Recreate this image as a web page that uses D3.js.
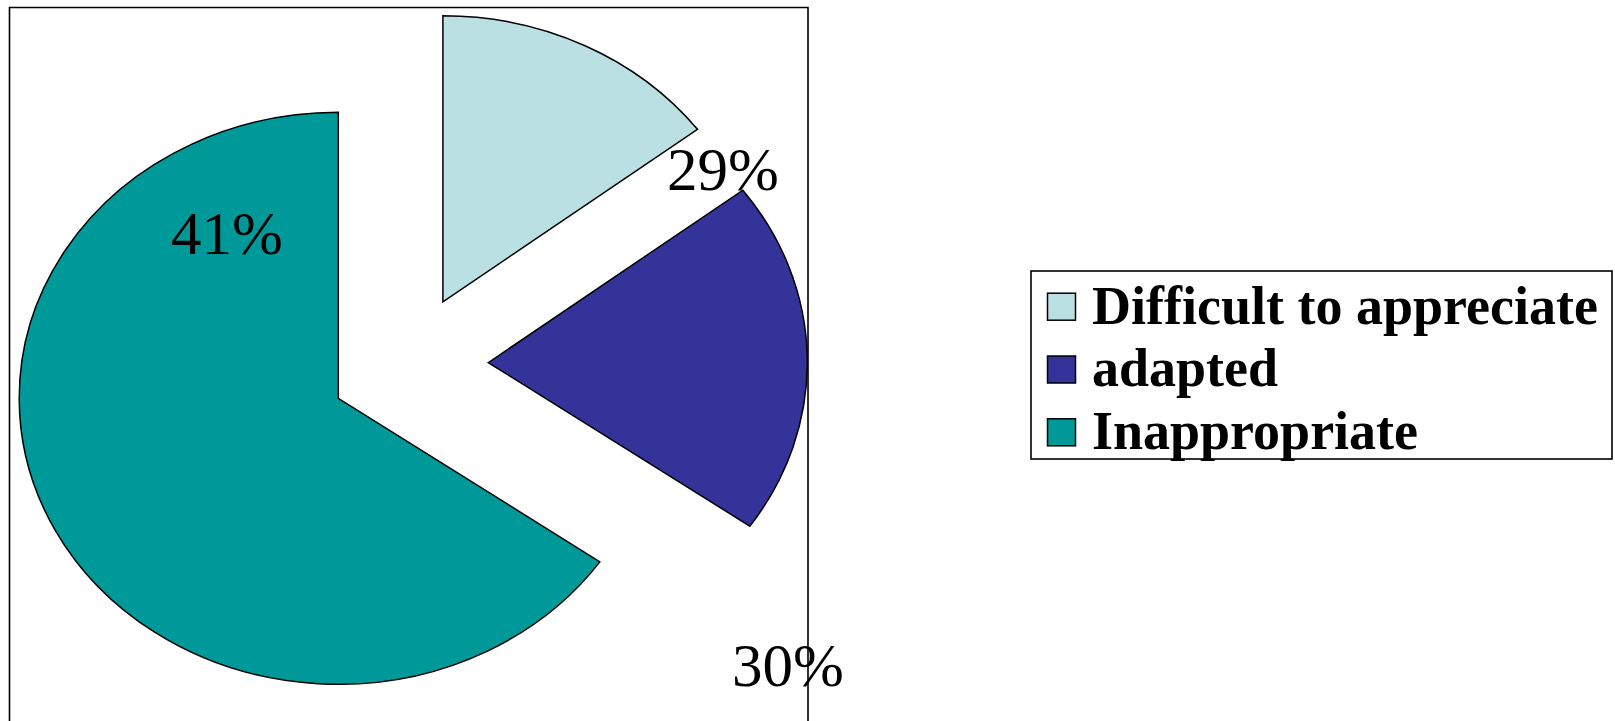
<!DOCTYPE html>
<html>
<head>
<meta charset="utf-8">
<script src="https://cdn.jsdelivr.net/npm/d3@7"></script>
<style>
  body { margin: 0; background: #fff; }
  svg { display: block; }
</style>
</head>
<body>
<svg id="chart" width="1615" height="721"></svg>
<script>
// categories and values
var categories = ['Difficult to appreciate', 'adapted', 'Inappropriate'];
var sliceShares = [14.7, 20.0, 65.3];      // angular share as drawn in the picture
var labelValues = [29, 30, 41];            // percentages printed on the chart
var colors = ['#BBE0E3', '#333399', '#009999'];

var serif = "'Times New Roman', 'Liberation Serif', 'DejaVu Serif', serif";
var svg = d3.select('#chart');

// plot frame (runs off the bottom)
svg.append('path')
  .attr('d', 'M9.5,730 L9.5,7.5 L808,7.5 L808,730')
  .attr('fill', 'none').attr('stroke', '#000').attr('stroke-width', 1.6);

//slice layout: pie centre, explode offset per slice, ellipse radii
var pieCx = 338.3, pieCy = 398.3;
var explode = [[104.6, -96.5], [150, -35.7], [0, 0]];
var radX = 319, radY = 286;

var pie = d3.pie().sort(null).value(function(d){ return d; });
var arcs = pie(sliceShares);
var arc = d3.arc().innerRadius(0).outerRadius(1);

svg.append('g').selectAll('path').data(arcs).enter().append('path')
  .attr('d', function(d){ return arc(d); })
  .attr('transform', function(d, i){
    return 'translate(' + (pieCx + explode[i][0]) + ',' + (pieCy + explode[i][1]) + ') scale(' + radX + ',' + radY + ')';
  })
  .attr('fill', function(d, i){ return colors[i]; })
  .attr('stroke', '#000')
  .attr('stroke-width', 1.5)
  .attr('vector-effect', 'non-scaling-stroke')
  .attr('stroke-linejoin', 'miter');

// percentage labels
var labelPos = [[723, 190], [788, 686], [227, 254]];
svg.append('g').selectAll('text').data(labelValues).enter().append('text')
  .attr('x', function(d, i){ return labelPos[i][0]; })
  .attr('y', function(d, i){ return labelPos[i][1]; })
  .attr('text-anchor', 'middle')
  .attr('font-family', serif)
  .attr('font-size', 61)
  .attr('fill', '#000')
  .text(function(d){ return d + '%'; });

// legend
var legX = 1031, legY = 271, legW = 581, legH = 188;
var rowY = d3.scaleLinear().domain([0, 2]).range([306.7, 432.3]);

var leg = svg.append('g');
leg.append('rect')
  .attr('x', legX).attr('y', legY).attr('width', legW).attr('height', legH)
  .attr('fill', '#fff').attr('stroke', '#000').attr('stroke-width', 1.6);

var rows = leg.selectAll('g.row').data(categories).enter().append('g').attr('class', 'row');
rows.append('rect')
  .attr('x', 1047.5)
  .attr('y', function(d, i){ return rowY(i) - 13.5; })
  .attr('width', 28).attr('height', 27)
  .attr('fill', function(d, i){ return colors[i]; })
  .attr('stroke', '#000').attr('stroke-width', 1.5);
rows.append('text')
  .attr('x', 1092)
  .attr('y', function(d, i){ return rowY(i) + 16.8; })
  .attr('font-family', serif)
  .attr('font-size', 54)
  .attr('font-weight', 'bold')
  .attr('fill', '#000')
  .text(function(d){ return d; });
</script>
</body>
</html>
